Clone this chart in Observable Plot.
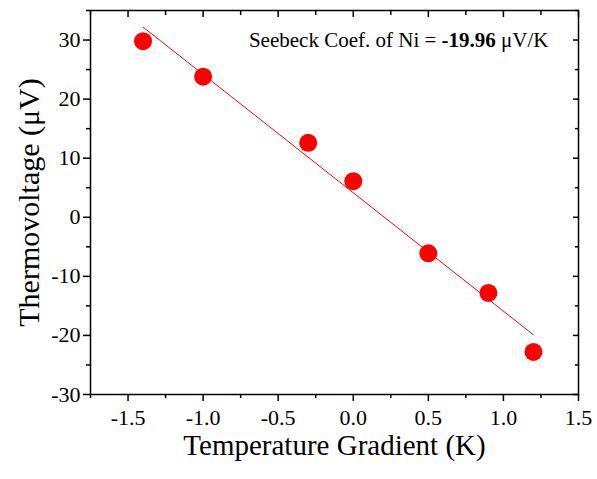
<!DOCTYPE html>
<html>
<head>
<meta charset="utf-8">
<script src="https://cdn.jsdelivr.net/npm/d3@7"></script>
<script src="https://cdn.jsdelivr.net/npm/@observablehq/plot@0.6"></script>
<style>
  html, body { margin: 0; padding: 0; background: #fff; }
</style>
</head>
<body>
<div id="chart"></div>
<script>
// Data
const gradientK = [-1.4, -1.0, -0.3, 0.0, 0.5, 0.9, 1.2];
const thermoUV = [29.8, 23.8, 12.6, 6.1, -6.1, -12.8, -22.8];
// Linear fit line endpoints (slope ≈ -19.96 µV/K)
const fitX = [-1.4, 1.2];
const fitY = [32.2, -19.9];
// Tick values
const xMajor = [-1.5, -1.0, -0.5, 0.0, 0.5, 1.0, 1.5];
const xMinor = [-1.75, -1.25, -0.75, -0.25, 0.25, 0.75, 1.25];
const yMajor = [-30, -20, -10, 0, 10, 20, 30];
const yMinor = [-25, -15, -5, 5, 15, 25, 35];
const xTitle = "Temperature Gradient (K)";
const yTitle = "Thermovoltage (\u03BCV)";
const annotation = "Seebeck Coef. of Ni = -19.96 \u03BCV/K";

const points = gradientK.map((x, i) => ({x, y: thermoUV[i]}));
const fit = fitX.map((x, i) => ({x, y: fitY[i]}));

const plot = Plot.plot({
  width: 597,
  height: 479,
  marginLeft: 90,
  marginRight: 19,
  marginTop: 10,
  marginBottom: 85,
  style: {fontFamily: "'Liberation Serif', 'Times New Roman', serif", fontSize: "22px", color: "#000", background: "#fff"},
  x: {domain: [-1.75, 1.5]},
  y: {domain: [-30, 35]},
  marks: [
    // bottom axis (outward ticks)
    Plot.axisX(xMajor, {anchor: "bottom", tickSize: 7, tickPadding: 8, strokeWidth: 1.5, tickFormat: d => d.toFixed(1), label: null, fontSize: 22}),
    Plot.axisX(xMinor, {anchor: "bottom", tickSize: 4, strokeWidth: 1.5, text: null, label: null}),
    // top axis (inward ticks)
    Plot.axisX(xMajor, {anchor: "top", tickSize: 6, insetTop: 6, strokeWidth: 1.5, text: null, label: null}),
    Plot.axisX(xMinor, {anchor: "top", tickSize: 4, insetTop: 4, strokeWidth: 1.5, text: null, label: null}),
    // left axis (outward ticks)
    Plot.axisY(yMajor, {anchor: "left", tickSize: 7, tickPadding: 3, strokeWidth: 1.5, tickFormat: d => String(d), label: null, fontSize: 22}),
    Plot.axisY(yMinor, {anchor: "left", tickSize: 4, strokeWidth: 1.5, text: null, label: null}),
    // right axis (inward ticks)
    Plot.axisY(yMajor, {anchor: "right", tickSize: 6, insetRight: 6, strokeWidth: 1.5, text: null, label: null}),
    Plot.axisY(yMinor, {anchor: "right", tickSize: 4, insetRight: 4, strokeWidth: 1.5, text: null, label: null}),
    Plot.frame({stroke: "#000", strokeWidth: 1.5}),
    Plot.line(fit, {x: "x", y: "y", stroke: "#ff0000", strokeWidth: 1}),
    Plot.dot(points, {x: "x", y: "y", r: 9, fill: "#ff0000", stroke: "none"}),
    Plot.text([annotation], {frameAnchor: "top-right", dx: -30, dy: 22, text: d => d, textAnchor: "end", fontSize: 21, fill: "#000", className: "annot"}),
    Plot.text([xTitle], {frameAnchor: "bottom", dy: 60, text: d => d, textAnchor: "middle", fontSize: 29, fill: "#000"}),
    Plot.text([yTitle], {frameAnchor: "left", dx: -61, rotate: -90, text: d => d, textAnchor: "middle", fontSize: 30, fill: "#000"})
  ]
});

document.getElementById("chart").appendChild(plot);

// Render the coefficient in bold, as in the reference
const annotText = plot.querySelector(".annot text");
if (annotText) {
  annotText.textContent = "";
  const ns = "http://www.w3.org/2000/svg";
  const parts = [["Seebeck Coef. of Ni = ", null], ["-19.96", "bold"], [" \u03BCV/K", null]];
  for (const [t, w] of parts) {
    const ts = document.createElementNS(ns, "tspan");
    ts.textContent = t;
    if (w) ts.setAttribute("font-weight", w);
    annotText.appendChild(ts);
  }
}
</script>
</body>
</html>
